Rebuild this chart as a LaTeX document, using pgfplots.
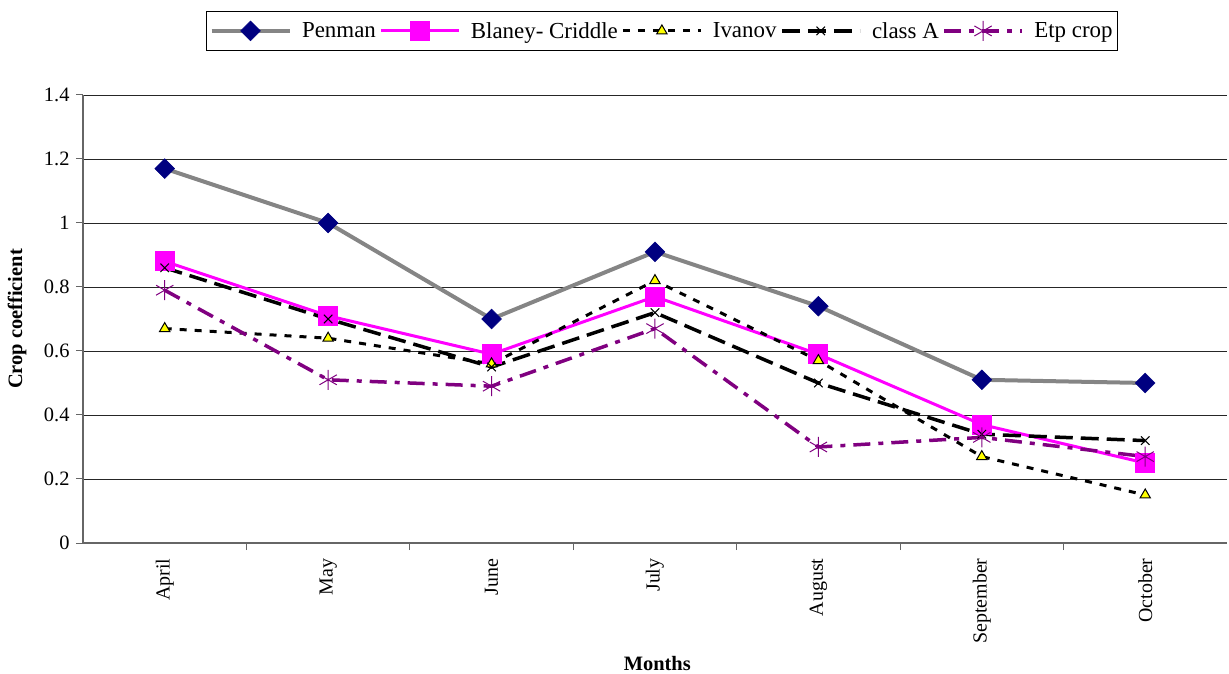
\documentclass[border=0pt]{standalone}
\usepackage{fontspec}
\setmainfont{Liberation Serif}
\usepackage{pgfplots}
\pgfplotsset{compat=1.18}
\usetikzlibrary{plotmarks}
\definecolor{navyc}{RGB}{0,0,128}
\definecolor{purp}{RGB}{128,0,128}
\definecolor{mag}{RGB}{255,0,255}
\definecolor{yel}{RGB}{255,255,0}
\begin{document}
\begin{tikzpicture}
\path[use as bounding box] (0,0) rectangle (1229bp,674bp);
\begin{axis}[
  at={(83bp,131bp)}, anchor=south west,
  scale only axis, width=1144bp, height=448bp,
  xmin=-0.5, xmax=6.5, ymin=0, ymax=1.4,
  axis x line*=bottom, axis y line*=left,
  axis line style={-, draw=gray!80!black, line width=1.2bp},
  ytick={0,0.2,0.4,0.6,0.8,1,1.2,1.4},
  yticklabels={0,0.2,0.4,0.6,0.8,1,1.2,1.4},
  ymajorgrids, grid style={black!85, line width=0.8bp},
  tick align=outside, major tick length=7bp,
  ytick style={draw=gray!80!black, line width=1bp},
  xtick={0,1,2,3,4,5,6},
  xticklabels={April,May,June,July,August,September,October},
  xtick style={draw=none},
  extra x ticks={0.5,1.5,2.5,3.5,4.5,5.5},
  extra x tick labels={},
  extra x tick style={xtick style={draw=gray!80!black, line width=1bp}},
  xticklabel shift=5bp,
  x tick label style={rotate=90, anchor=east, font=\fontsize{20}{22}\selectfont},
  y tick label style={font=\fontsize{20.5}{22}\selectfont, xshift=-3bp},
  /pgf/number format/assume math mode=true,
  ylabel={\textbf{Crop coefficient}},
  ylabel style={at={(axis description cs:-0.0576,0.5)}, anchor=center, font=\fontsize{20.5}{22}\selectfont},
  xlabel={\textbf{Months}},
  xlabel style={at={(axis description cs:0.502,-0.268)}, anchor=center, font=\fontsize{20.5}{22}\selectfont},
  legend columns=5,
  legend style={at={(axis description cs:0.506,1.143)}, anchor=center, draw=black, line width=1bp,
    font=\fontsize{23}{25}\selectfont, /tikz/every even column/.append style={column sep=2bp},
    /tikz/every odd column/.append style={column sep=9bp},
    nodes={inner xsep=1.5bp, inner ysep=2bp},
    inner xsep=3bp, inner ysep=9bp},
  legend image code/.code={\draw[mark repeat=2, mark phase=2] plot coordinates {(0bp,0bp) (39bp,0bp) (78bp,0bp)};},
]
\addplot[black!48, line width=4bp, mark=square*, mark size=7bp, mark options={solid, rotate=45, fill=navyc, draw=navyc, line width=0.5bp}]
  coordinates {(0,1.17) (1,1.00) (2,0.70) (3,0.91) (4,0.74) (5,0.51) (6,0.50)};
\addlegendentry{Penman}
\addplot[mag, line width=3bp, mark=square*, mark size=8.5bp, mark options={solid, fill=mag, draw=mag}]
  coordinates {(0,0.88) (1,0.71) (2,0.59) (3,0.77) (4,0.59) (5,0.37) (6,0.25)};
\addlegendentry{Blaney- Criddle}
\addplot[black, line width=3bp, dash pattern=on 7bp off 8bp, mark=triangle*, mark size=6bp, mark options={solid, fill=yel, draw=black, line width=1bp}]
  coordinates {(0,0.67) (1,0.64) (2,0.56) (3,0.82) (4,0.57) (5,0.27) (6,0.15)};
\addlegendentry{Ivanov}
\addplot[black, line width=3.5bp, dash pattern=on 18bp off 8bp, mark=x, mark size=6bp, mark options={solid, draw=black, line width=1bp}]
  coordinates {(0,0.86) (1,0.70) (2,0.55) (3,0.72) (4,0.50) (5,0.34) (6,0.32)};
\addlegendentry{class A}
\addplot[purp, line width=3.5bp, dash pattern=on 17bp off 8bp on 5bp off 8bp, mark=asterisk, mark size=10bp, mark options={solid, draw=purp, line width=1bp}]
  coordinates {(0,0.79) (1,0.51) (2,0.49) (3,0.67) (4,0.30) (5,0.33) (6,0.27)};
\addlegendentry{Etp crop}
\end{axis}
\end{tikzpicture}
\end{document}
